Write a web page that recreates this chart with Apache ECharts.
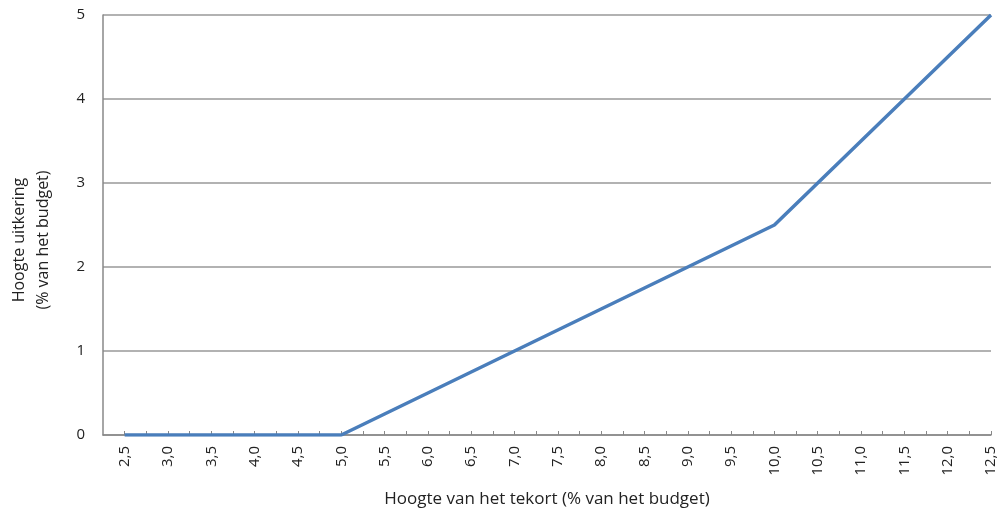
<!DOCTYPE html>
<html>
<head>
<meta charset="utf-8">
<script src="https://cdn.jsdelivr.net/npm/echarts@6/dist/echarts.min.js"></script>
<style>
  html, body { margin: 0; padding: 0; background: #fff; }
  #chart { width: 1002px; height: 514px; }
</style>
</head>
<body>
<div id="chart"></div>
<script>
// tekort (% van het budget)
const tekort = [2.5, 3.0, 3.5, 4.0, 4.5, 5.0, 5.5, 6.0, 6.5, 7.0, 7.5, 8.0, 8.5, 9.0, 9.5, 10.0, 10.5, 11.0, 11.5, 12.0, 12.5]
// uitkering (% van het budget)
const uitkering = [0, 0, 0, 0, 0, 0, 0.25, 0.5, 0.75, 1.0, 1.25, 1.5, 1.75, 2.0, 2.25, 2.5, 3.0, 3.5, 4.0, 4.5, 5.0]

const chart = echarts.init(document.getElementById('chart'))
const font = '"Open Sans", sans-serif'

const option = {
  animation: false,
  grid: { left: 103, right: 11, top: 15, bottom: 79, outerBoundsMode: 'none', containLabel: false },
  xAxis: {
    type: 'value',
    min: 2.25,
    max: 12.5,
    interval: 0.25,
    name: 'Hoogte van het tekort (% van het budget)',
    nameLocation: 'middle',
    nameGap: 56,
    nameTextStyle: { fontFamily: font, fontSize: 17, color: '#222' },
    axisLine: { lineStyle: { color: '#888', width: 1.5 } },
    axisTick: { inside: true, length: 4, lineStyle: { color: '#888' } },
    splitLine: { show: false },
    axisLabel: {
      rotate: 90,
      margin: 11,
      fontFamily: font,
      fontSize: 15,
      color: '#222',
      showMinLabel: false,
      formatter: v => (Math.abs(v * 2 - Math.round(v * 2)) < 1e-6) ? v.toFixed(1).replace('.', ',') : ''
    }
  },
  yAxis: {
    type: 'value',
    min: 0,
    max: 5,
    interval: 1,
    name: 'Hoogte uitkering\n(% van het budget)',
    nameLocation: 'middle',
    nameGap: 48,
    nameTextStyle: { fontFamily: font, fontSize: 16, color: '#222', lineHeight: 24, padding: [0, 30, 0, 0] },
    axisLine: { show: true, lineStyle: { color: '#888', width: 1.5 } },
    axisTick: { show: false },
    splitLine: { lineStyle: { color: '#999', width: 1.5 } },
    axisLabel: { fontFamily: font, fontSize: 15, color: '#222', margin: 18 }
  },
  series: [{
    type: 'line',
    data: tekort.map((x, i) => [x, uitkering[i]]),
    showSymbol: false,
    lineStyle: { color: '#4a7ebb', width: 3.5 },
    z: 3
  }]
}

chart.setOption(option)
</script>
</body>
</html>
